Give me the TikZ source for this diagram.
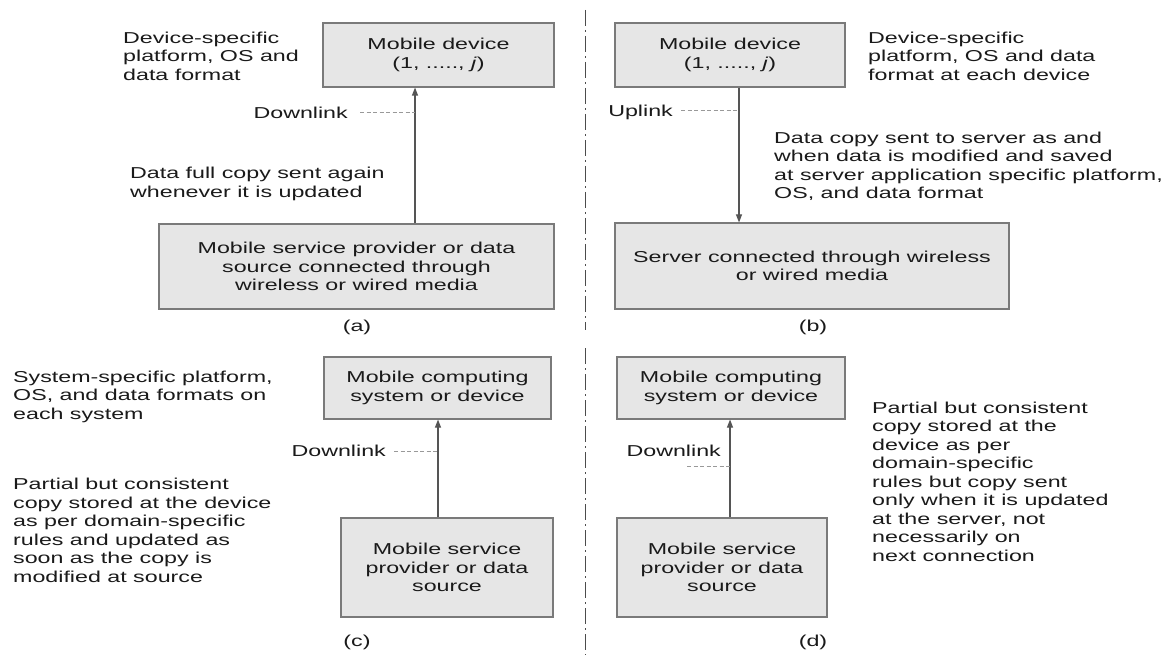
\documentclass[tikz,border=0pt]{standalone}
\usepackage{fontspec}
\setmainfont{Liberation Sans}[FakeStretch=1.47]
\usetikzlibrary{arrows.meta}
\definecolor{boxfill}{HTML}{E6E6E6}
\definecolor{boxline}{HTML}{7A7A7A}
\definecolor{txt}{HTML}{1A1A1A}
\definecolor{arrline}{HTML}{555555}
\begin{document}
\begin{tikzpicture}[x=1pt,y=-1pt,
  every node/.style={font=\fontsize{15.8}{18.5}\selectfont, text=txt, inner sep=0pt},
  box/.style={draw=boxline, fill=boxfill, line width=1.1pt, align=center},
  note/.style={anchor=west, align=left},
  flow/.style={draw=arrline, line width=1.1pt, -{Triangle[length=8pt,width=6pt]}},
  leader/.style={draw=gray!80, line width=1pt, dash pattern=on 4pt off 2.5pt},
  divider/.style={draw=gray!60!black, line width=1pt, dash pattern=on 16pt off 4pt on 2pt off 4pt}]
\useasboundingbox[fill=white] (0,0) rectangle (1165,655);

% divider
\coordinate (dv1) at (585,10);
\coordinate (dv2) at (585,330);
\coordinate (dv3) at (585,348);
\coordinate (dv4) at (585,655);
\draw[divider] (dv1) -- (dv2);
\draw[divider] (dv3) -- (dv4);

% ---------- (a)
\node[box, minimum width=231pt, minimum height=64pt] (a1) at (438.5,55) {Mobile device\\(1, ....., \textit{j})};
\node[box, minimum width=395pt, minimum height=85pt] (a2) at (356.5,266.5) {Mobile service provider or data\\source connected through\\wireless or wired media};
\node[note] (ta) at (123,56) {Device-specific\\platform, OS and\\data format};
\node[note] (tb) at (130,184) {Data full copy sent again\\whenever it is updated};
\node[anchor=east] (da) at (348,113) {Downlink};
\coordinate (ax) at (415,0);
\draw[flow] (ax |- a2.north) -- (ax |- a1.south);
\draw[leader] ([xshift=12pt]da.east) -- (da.east -| ax);
\node (capa) at (357,327) {(a)};

% ---------- (b)
\node[box, minimum width=230pt, minimum height=64pt] (b1) at (730,55) {Mobile device\\(1, ....., \textit{j})};
\node[box, minimum width=394pt, minimum height=86pt] (b2) at (812,266) {Server connected through wireless\\or wired media};
\node[note] (tc) at (868,56) {Device-specific\\platform, OS and data\\format at each device};
\node[note] (td) at (774,166.5) {Data copy sent to server as and\\when data is modified and saved\\at server application specific platform,\\OS, and data format};
\node[anchor=east] (ub) at (673,112) {Uplink};
\coordinate (bx) at (739,0);
\draw[flow] (bx |- b1.south) -- (bx |- b2.north);
\draw[leader] ([xshift=8pt,yshift=1pt]ub.east) -- ([yshift=1pt]ub.east -| bx);
\node (capb) at (813,327) {(b)};

% ---------- (c)
\node[box, minimum width=227pt, minimum height=62pt] (c1) at (437.5,388) {Mobile computing\\system or device};
\node[box, minimum width=212pt, minimum height=99pt] (c2) at (447,567.5) {Mobile service\\provider or data\\source};
\node[note] (te) at (13,396.5) {System-specific platform,\\OS, and data formats on\\each system};
\node[note] (tf) at (13,530.5) {Partial but consistent\\copy stored at the device\\as per domain-specific\\rules and updated as\\soon as the copy is\\modified at source};
\node[anchor=east] (dc) at (386,451) {Downlink};
\coordinate (cx) at (438,0);
\draw[flow] (cx |- c2.north) -- (cx |- c1.south);
\draw[leader] ([xshift=8pt]dc.east) -- (dc.east -| cx);
\node (capc) at (357,642) {(c)};

% ---------- (d)
\node[box, minimum width=228pt, minimum height=62pt] (d1) at (731,388) {Mobile computing\\system or device};
\node[box, minimum width=210pt, minimum height=99pt] (d2) at (722,567.5) {Mobile service\\provider or data\\source};
\node[note] (tg) at (872,481.5) {Partial but consistent\\copy stored at the\\device as per\\domain-specific\\rules but copy sent\\only when it is updated\\at the server, not\\necessarily on\\next connection};
\node[anchor=east] (dd) at (721,451) {Downlink};
\coordinate (dx) at (730,0);
\coordinate (dl) at (687,466);
\draw[flow] (dx |- d2.north) -- (dx |- d1.south);
\draw[leader] (dl) -- (dl -| dx);
\node (capd) at (813,642) {(d)};
\end{tikzpicture}
\end{document}
